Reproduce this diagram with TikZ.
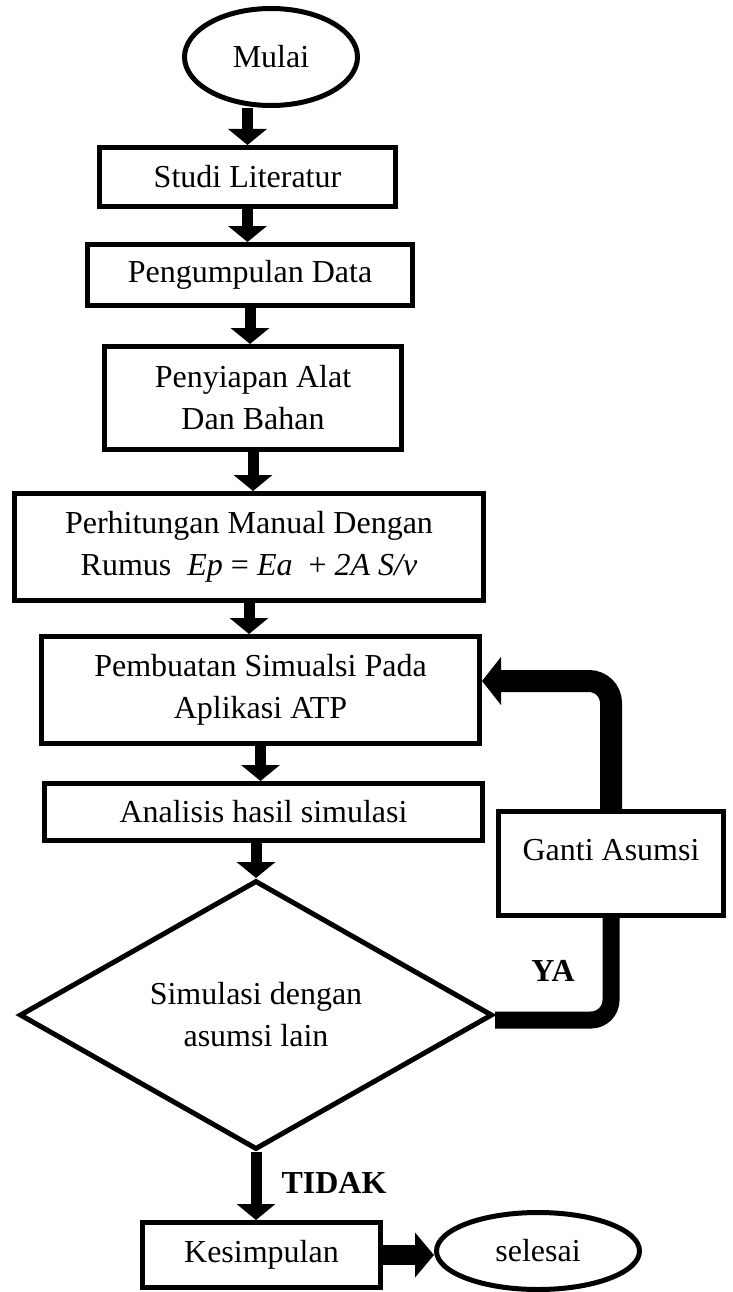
\documentclass[tikz,border=0pt]{standalone}
\usepackage{fontspec}
\setmainfont{Liberation Serif}
\usetikzlibrary{shapes.geometric,arrows.meta}

\begin{document}
\begin{tikzpicture}[x=1pt,y=-1pt,
  every node/.style={font=\fontsize{32}{42}\selectfont, inner sep=0pt, line width=5pt},
  box/.style={draw, rectangle, align=center},
  oval/.style={draw, ellipse},
  choice/.style={draw, diamond, aspect=1.75, align=center},
  flow/.style={line width=11pt, -{Triangle[width=38pt,length=16pt]}},
  back/.style={line width=22pt, rounded corners=22pt, -{Triangle[width=47pt,length=19pt]}},
  yes/.style={line width=17pt, rounded corners=20pt},
  flowbig/.style={line width=20pt, -{Triangle[width=44pt,length=19pt]}},
  tag/.style={font=\fontsize{32}{42}\selectfont\bfseries}]
\useasboundingbox (0,0) rectangle (732,1292);

\node [oval, minimum width=173pt, minimum height=97pt] (mulai) at (271,57) {Mulai};
\node [box, minimum width=296pt, minimum height=59pt] (studi) at (247.5,177) {Studi Literatur};
\node [box, minimum width=325pt, minimum height=61pt] (kumpul) at (250,275) {Pengumpulan Data};
\node [box, minimum width=297pt, minimum height=103pt] (siap) at (253,398) {Penyiapan Alat\\Dan Bahan};
\node [box, minimum width=469pt, minimum height=107pt] (hitung) at (249,547)
  {Perhitungan Manual Dengan\\Rumus~ \textit{Ep} = \textit{Ea}~ + \textit{2A S/v}};
\node [box, minimum width=438pt, minimum height=107pt] (simul) at (260.5,690) {Pembuatan Simualsi Pada\\Aplikasi ATP};
\node [box, minimum width=438pt, minimum height=57pt] (analisis) at (263.5,812) {Analisis hasil simulasi};
\node [choice, minimum width=473pt, minimum height=269pt] (cek) at (256,1015) {Simulasi dengan\\asumsi lain};
\node [box, minimum width=225pt, minimum height=104pt, text height=22pt, text depth=29pt] (ganti) at (611,863.5) {Ganti Asumsi};
\node [box, minimum width=238pt, minimum height=65pt] (simpul) at (261.5,1255) {Kesimpulan};
\node [oval, minimum width=203pt, minimum height=77pt] (selesai) at (538,1251) {selesai};

\draw [flow] (studi.north |- mulai.south) -- (studi.north);
\draw [flow] (studi.south) -- (studi.south |- kumpul.north);
\draw [flow] (kumpul.south) -- (kumpul.south |- siap.north);
\draw [flow] (siap.south) -- (siap.south |- hitung.north);
\draw [flow] (hitung.south) -- (hitung.south |- simul.north);
\draw [flow] (simul.south) -- (simul.south |- analisis.north);
\draw [flow] (cek.north |- analisis.south) -- (cek.north);
\draw [flow] (cek.south) -- (cek.south |- simpul.north);
\draw [flowbig] (simpul.east) -- (simpul.east -| selesai.west);

\draw [yes] ([yshift=-5pt]cek.east) -| (ganti.south);
\draw [back] (ganti.north) |- ([yshift=9pt]simul.east);
\node [tag] (ya) at (553,971) {YA};
\node [tag] (tidak) at (334,1183) {TIDAK};
\end{tikzpicture}
\end{document}
